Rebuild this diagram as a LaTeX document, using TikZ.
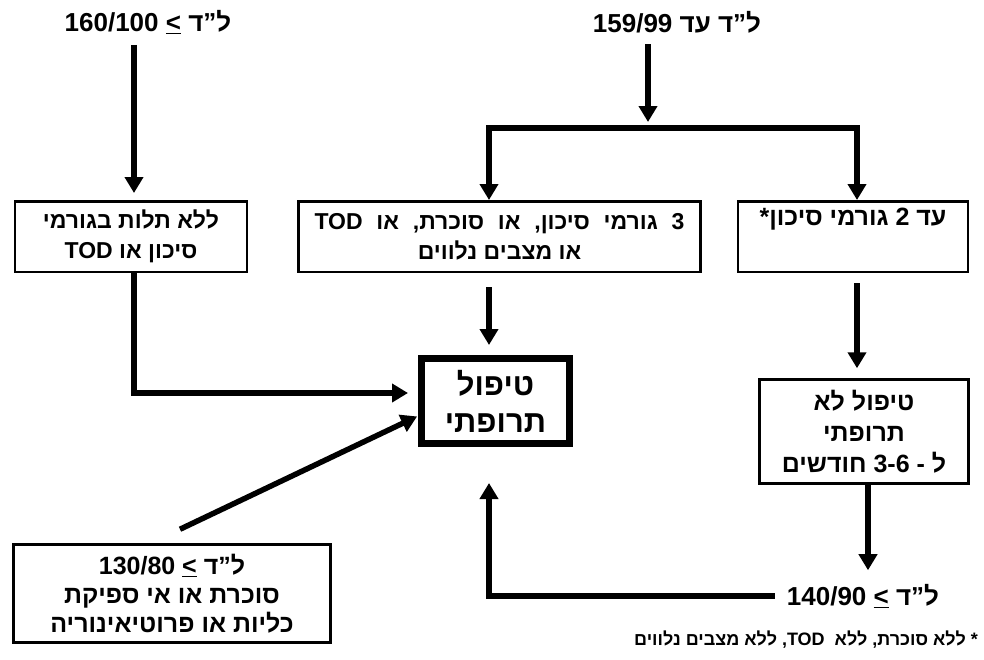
\documentclass[tikz,border=0pt]{standalone}
\usepackage{fontspec}
\setmainfont{Liberation Sans}
\newfontfamily\hebfont{Liberation Sans}[Script=Hebrew]
\newfontfamily\latfont{Liberation Sans}
\TeXXeTstate=1
\newcommand{\hw}[1]{\mbox{\hebfont #1}}
\newcommand{\lw}[1]{\mbox{\latfont #1}}
\newcommand{\gap}{\hspace{0.6em}}
\usetikzlibrary{arrows.meta,positioning}

\begin{document}
\begin{tikzpicture}[x=1pt,y=-1pt,>={Triangle[width=18pt,length=16pt]},
    thick arrow/.style={->,line width=5.5pt},
    squarebox/.style={rectangle,draw=black,line width=2.5pt,align=center,inner sep=2pt,
                      font=\fontsize{23}{30}\selectfont\bfseries},
    bigbox/.style={squarebox,line width=7pt,font=\fontsize{31}{37}\selectfont\bfseries},
    bplabel/.style={inner sep=2pt,font=\fontsize{26}{30}\selectfont\bfseries}]
  \useasboundingbox (0,0) rectangle (984,659);

  % blood pressure levels
  \node[bplabel] (bp160) at (148,22) {\beginR\hw{ל”ד} \underline{<} \lw{160/100}\endR};
  \node[bplabel] (bp159) at (677,22) {\beginR\hw{ל”ד} \hw{עד} \lw{159/99}\endR};
  \node[bplabel] (bp140) at (863,596) {\beginR\hw{ל”ד} \underline{<} \lw{140/90}\endR};

  % boxes
  \node[squarebox,minimum width=402pt,minimum height=70.5pt] (risk3) at (499.5,236.5)
       {\beginR\lw{3}\gap\hw{גורמי}\gap\hw{סיכון},\gap\hw{או}\gap\hw{סוכרת},\gap\hw{או}\gap\lw{TOD}\endR\\
        \beginR{\hebfont או מצבים נלווים}\endR};
  \node[squarebox,minimum width=230pt,minimum height=70.5pt,right=35pt of risk3,
        font=\fontsize{25}{30}\selectfont\bfseries] (risk2)
       {\beginR\hw{עד} \lw{2} \hw{גורמי} \hw{סיכון}*\endR\\ \strut};
  \node[squarebox,minimum width=232pt,minimum height=70.5pt,left=49pt of risk3] (nodep)
       {\beginR{\hebfont ללא תלות בגורמי}\endR\\
        \beginR\hw{סיכון} \hw{או} \lw{TOD}\endR};
  \node[bigbox,minimum width=148pt,minimum height=85pt] (drug) at (495.5,401)
       {\hw{טיפול}\\ \hw{תרופתי}};
  \node[squarebox,minimum width=209pt,minimum height=104pt,
        font=\fontsize{25}{31}\selectfont\bfseries] (lifestyle) at (864,431.5)
       {\beginR{\hebfont טיפול לא}\endR\\ \hw{תרופתי}\\
        \beginR\hw{ל} - \lw{3-6} \hw{חודשים}\endR};
  \node[squarebox,minimum width=317pt,minimum height=98pt,
        font=\fontsize{25}{29}\selectfont\bfseries] (renal) at (172,593.5)
       {\beginR\hw{ל”ד} \underline{<} \lw{130/80}\endR\\
        \beginR{\hebfont סוכרת או אי ספיקת}\endR\\
        \beginR{\hebfont כליות או פרוטיאינוריה}\endR};
  \node[inner sep=2pt,anchor=east,font=\fontsize{18}{22}\selectfont\bfseries] (note) at (980,640)
       {\beginR* \hw{ללא} \hw{סוכרת}, \hw{ללא}\ \ \lw{TOD}, \hw{ללא} \hw{מצבים} \hw{נלווים}\endR};

  \coordinate (split) at (648,128);
  \coordinate (lcol) at (489,128);
  \coordinate (rcol) at (857,128);

  % arrows
  \draw[thick arrow,shorten <=9pt,shorten >=7pt] ([xshift=3pt]bp160.south -| nodep.north) -- ([xshift=3pt]nodep.north);
  \draw[thick arrow,shorten >=10pt] ([xshift=3pt]nodep.south) |- ([yshift=8pt]drug.west);
  \draw[thick arrow,shorten <=9pt,shorten >=6pt] (bp159.south -| split) -- (split);
  \draw[thick arrow,<->] (risk3.north -| lcol) |- (rcol) -- (risk2.north -| rcol);
  \draw[thick arrow,shorten <=14pt,shorten >=10pt] (risk3.south -| lcol) -- (drug.north -| lcol);
  \draw[thick arrow,shorten <=10pt,shorten >=10pt] ([xshift=4pt]risk2.south)
       -- ([xshift=4pt]risk2.south |- lifestyle.north);
  \draw[thick arrow,shorten >=12pt] ([xshift=4pt]lifestyle.south)
       -- ([xshift=4pt]lifestyle.south |- bp140.north);
  \draw[thick arrow,shorten <=10pt,shorten >=36pt] (bp140.west) -| (drug.south -| lcol);
  \draw[thick arrow,shorten >=1pt] ([shift={(8pt,14pt)}]renal.north) -- ([yshift=-15pt]drug.west);
\end{tikzpicture}
\end{document}
